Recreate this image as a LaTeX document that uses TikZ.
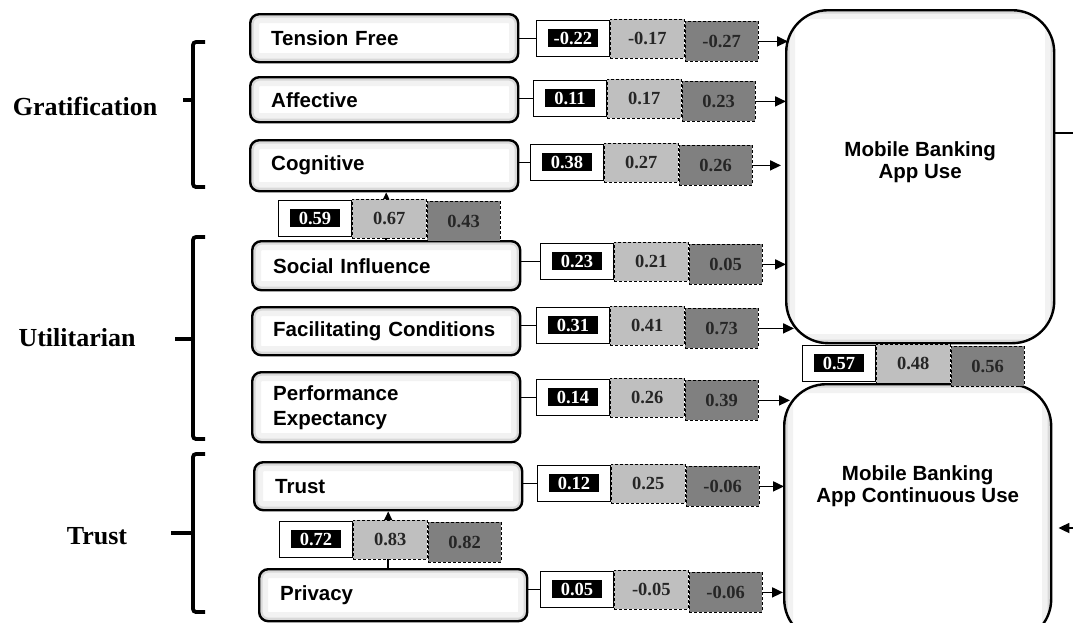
\documentclass[tikz,border=0pt]{standalone}
\usepackage{fontspec}
\setmainfont{Liberation Serif}
\newfontfamily\arialfont{Liberation Sans}
\usepackage{tikz}
\usetikzlibrary{positioning,arrows.meta}
\usepackage{xcolor}
\definecolor{litegray}{HTML}{BFBFBF}
\definecolor{midgray}{HTML}{808080}

% one row of coefficients: name, x, y (top left of white box), three values
\newcommand{\coefs}[6]{%
	\node[wbox] (#1-a) at (#2,#3) {};
	\node[bbox] (#1-n) at (#1-a.center) {#4};
	\node[lbox] (#1-b) at ([yshift=1.5pt]#1-a.north east) {#5};
	\node[dbox] (#1-c) at ([yshift=-2.5pt]#1-b.north east) {#6};
}

\begin{document}
\begin{tikzpicture}[x=1pt,y=-1pt,
	conn/.style={line width=1.8pt},
	arr/.style={conn, -{Triangle[length=11pt,width=10pt]}},
	bevel/.style={path picture={
		\draw[gray!10, line width=18pt, rounded corners=#1] (path picture bounding box.south west) rectangle (path picture bounding box.north east);
		\draw[gray!30, line width=7pt, rounded corners=#1] (path picture bounding box.south west) rectangle (path picture bounding box.north east);}},
	factor/.style={draw, line width=2.4pt, rounded corners=9pt, fill=white, bevel=9pt,
		anchor=north west, align=left, text width=226pt, inner xsep=21pt, inner ysep=0pt,
		minimum height=48pt, font=\arialfont\bfseries\fontsize{20.5}{25}\selectfont},
	outcome/.style={draw, line width=2.4pt, rounded corners=42pt, fill=white, bevel=20pt,
		anchor=north west, inner sep=0pt},
	outtext/.style={align=center, font=\arialfont\bfseries\fontsize{20.5}{22}\selectfont},
	grplabel/.style={font=\bfseries\fontsize{26}{30}\selectfont},
	grpbrace/.style={line width=3.8pt, rounded corners=3pt},
	wbox/.style={draw, line width=0.9pt, fill=white, anchor=north west,
		minimum width=73pt, minimum height=36pt, inner sep=0pt},
	bbox/.style={fill=black, text=white, minimum width=50pt, minimum height=18pt,
		inner sep=0pt, font=\bfseries\fontsize{18.5}{20}\selectfont},
	lbox/.style={draw, dashed, dash pattern=on 3pt off 2pt, line width=0.8pt, fill=litegray,
		anchor=north west, minimum width=74pt, minimum height=39pt, inner sep=0pt,
		text=black!85, font=\bfseries\fontsize{18.5}{20}\selectfont},
	dbox/.style={lbox, fill=midgray, minimum width=73pt, minimum height=40pt}]

	\useasboundingbox (0,0) rectangle (1073,622);
	\clip (0,0) rectangle (1073,622);

	% group labels and brackets
	\node[grplabel] (grat) at (85,106) {Gratification};
	\node[grplabel] (util) at (77,338) {Utilitarian};
	\node[grplabel] (trst) at (97,536) {Trust};

	\draw[grpbrace] (205,42) -- (193,42) -- (193,187) -- (205,187);
	\draw[grpbrace] (193,100) -- (183,100);
	\draw[grpbrace] (205,237) -- (193,237) -- (193,439) -- (205,439);
	\draw[grpbrace] (193,339) -- (175,339);
	\draw[grpbrace] (205,454) -- (193,454) -- (193,612) -- (205,612);
	\draw[grpbrace] (193,533) -- (171,533);

	% antecedents
	\node[factor] (tf) at (249,13) {Tension Free};
	\node[factor, minimum height=45pt] (af) at (249,76) {Affective};
	\node[factor, minimum height=51pt] (cg) at (249,139) {Cognitive};
	\node[factor, minimum height=49pt] (si) at (251,240) {Social Influence};
	\node[factor] (fc) at (251,306) {Facilitating Conditions};
	\node[factor, minimum height=70pt] (pe) at (251,371) {Performance\\Expectancy};
	\node[factor] (tr) at (253,461) {Trust};
	\node[factor, minimum height=52pt] (pr) at (258,568) {Privacy};

	% outcomes
	\node[outcome, minimum width=268pt, minimum height=333pt] (use) at (785,9) {};
	\node[outtext] (use-t) at ([yshift=15pt]use.center) {Mobile Banking\\App Use};
	\node[outcome, minimum width=267pt, minimum height=257pt] (cont) at (783,383) {};
	\node[outtext] (cont-t) at ([yshift=27pt]cont.center) {Mobile Banking\\App Continuous Use};

	\draw[arr] (si.north) -- (si.north |- cg.south);
	\draw[arr] (tr.south |- pr.north) -- (tr.south);

	% coefficients
	\coefs{tf}{536}{20}{-0.22}{-0.17}{-0.27}
	\coefs{af}{533}{80}{0.11}{0.17}{0.23}
	\coefs{cg}{530}{144}{0.38}{0.27}{0.26}
	\coefs{sc}{278}{200}{0.59}{0.67}{0.43}
	\coefs{si}{540}{243}{0.23}{0.21}{0.05}
	\coefs{fc}{536}{307}{0.31}{0.41}{0.73}
	\coefs{pe}{536}{379}{0.14}{0.26}{0.39}
	\coefs{mu}{802}{345}{0.57}{0.48}{0.56}
	\coefs{tr}{537}{465}{0.12}{0.25}{-0.06}
	\coefs{pt}{279}{521}{0.72}{0.83}{0.82}
	\coefs{pr}{540}{571}{0.05}{-0.05}{-0.06}

	\foreach \f in {tf,af,cg,si,fc,pe,tr,pr}
		\draw[conn] (\f.east |- \f-a.west) -- (\f-a.west);

	\foreach \f/\o/\dx in {tf/use/3, af/use/1, cg/use/-4, si/use/1, fc/use/9, pe/cont/7, tr/cont/1, pr/cont/0}
		\draw[arr] (\f-c.east) -- ([xshift=\dx pt]\f-c.east -| \o.west);

	\coordinate (out) at (1073,133);
	\draw[conn] (use.east |- out) -- (out);
	\coordinate (in) at (1073,528);
	\draw[arr, shorten >=6pt] (in) -- (in -| cont.east);

\end{tikzpicture}
\end{document}
